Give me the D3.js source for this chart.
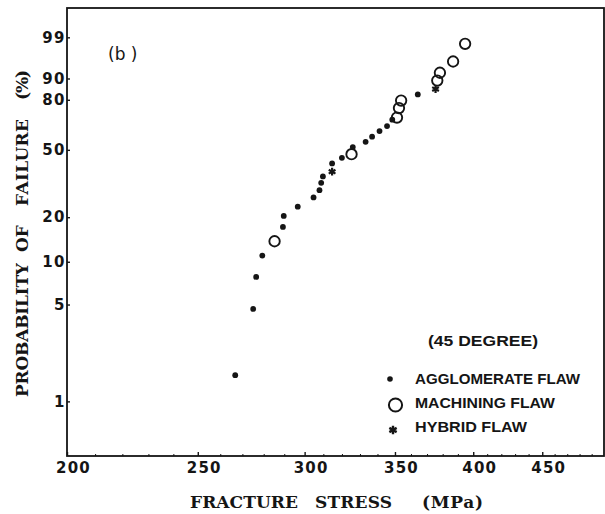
<!DOCTYPE html>
<html>
<head>
<meta charset="utf-8">
<script src="https://cdn.jsdelivr.net/npm/d3@7"></script>
<style>
  html, body { margin: 0; padding: 0; background: #fff; }
  svg { display: block; }
</style>
</head>
<body>
<svg id="chart" width="605" height="514"></svg>
<script>
// Weibull probability plot of fracture stress, 45 degree specimens,
// split by the flaw type found at the fracture origin.

const agglomerateStress = [266.5, 274.8, 276.2, 279.1, 289.1, 289.5, 296.5, 304.6, 307.7, 308.6,
                           309.5, 314.4, 319.7, 325.7, 332.9, 336.6, 340.9, 345.3, 348.4, 363.9];
const agglomerateProb   = [1.55, 4.65, 7.84, 11.04, 17.26, 20.39, 23.37, 26.72, 29.64, 32.80,
                           35.77, 42.38, 45.43, 51.59, 54.76, 57.92, 61.32, 64.41, 68.40, 82.84];

const machiningStress = [285.0, 325.0, 351.2, 352.4, 353.7, 376.2, 377.9, 386.5, 394.5];
const machiningProb   = [13.83, 47.52, 69.65, 75.32, 79.56, 89.18, 92.08, 95.33, 98.39];

const hybridStress = [314.4, 375.1];
const hybridProb   = [38.13, 85.45];

const xTicks = [200, 250, 300, 350, 400, 450];
const yTicks = [1, 5, 10, 20, 50, 80, 90, 99];

const panelLabel = "(b )";
const conditionLabel = "(45 DEGREE)";
const legendLabels = ["AGGLOMERATE FLAW", "MACHINING FLAW", "HYBRID FLAW"];
const xTitleWords = ["FRACTURE", "STRESS", "(MPa)"];
const yTitleWords = ["PROBABILITY", "OF", "FAILURE", "(%)"];

const ink = "#151515";
const svg = d3.select("#chart");
const plot = { left: 67, right: 604, top: 8, bottom: 456 };

// Weibull probability transform: ln(-ln(1 - F))
const weibull = p => Math.log(-Math.log(1 - p / 100));

const x = d3.scaleLog().domain([200, 500]).range([plot.left, plot.right]);
const yw = d3.scaleLinear()
  .domain([weibull(0.4), weibull(99.947)])
  .range([plot.bottom, plot.top]);
const y = p => yw(weibull(p));

// plot frame
svg.append("rect")
  .attr("x", plot.left).attr("y", plot.top)
  .attr("width", plot.right - plot.left).attr("height", plot.bottom - plot.top)
  .attr("fill", "none").attr("stroke", ink).attr("stroke-width", 1.8);

// minor ticks every 10 MPa
const xMinor = d3.range(210, 500, 10).filter(v => v % 50 !== 0);
svg.append("g").selectAll("line").data(xMinor).join("line")
  .attr("x1", d => x(d)).attr("x2", d => x(d))
  .attr("y1", plot.bottom).attr("y2", plot.bottom - 2)
  .attr("stroke", ink).attr("stroke-width", 1);

// x axis
const xAxis = svg.append("g")
  .attr("transform", `translate(0,${plot.bottom})`)
  .call(d3.axisBottom(x).tickValues(xTicks).tickFormat(d3.format("d"))
    .tickSizeInner(-4).tickSizeOuter(0).tickPadding(6));
xAxis.select(".domain").remove();
xAxis.selectAll(".tick line").attr("stroke", ink).attr("stroke-width", 1.4);
xAxis.selectAll(".tick text")
  .attr("dx", 6)
  .attr("fill", ink)
  .style("font-family", "'DejaVu Sans', sans-serif")
  .style("font-weight", "bold")
  .style("font-size", "15px")
  .style("letter-spacing", "1.2px");

// y axis on the Weibull scale
const yAxis = svg.append("g")
  .attr("transform", `translate(${plot.left},0)`)
  .call(d3.axisLeft(yw).tickValues(yTicks.map(weibull)).tickFormat((d, i) => yTicks[i])
    .tickSizeInner(-3).tickSizeOuter(0).tickPadding(1));
yAxis.select(".domain").remove();
yAxis.selectAll(".tick line").attr("stroke", ink).attr("stroke-width", 1.4);
yAxis.selectAll(".tick text")
  .attr("fill", ink)
  .style("font-family", "'DejaVu Sans', sans-serif")
  .style("font-weight", "bold")
  .style("font-size", "15px")
  .style("letter-spacing", "1.5px");

// markers
const dotR = 2.9, ringR = 5.2;
const star = d3.symbol().type(d3.symbolAsterisk).size(42);

svg.append("g").selectAll("circle")
  .data(d3.zip(agglomerateStress, agglomerateProb)).join("circle")
  .attr("cx", d => x(d[0])).attr("cy", d => y(d[1]))
  .attr("r", dotR).attr("fill", ink);

svg.append("g").selectAll("circle")
  .data(d3.zip(machiningStress, machiningProb)).join("circle")
  .attr("cx", d => x(d[0])).attr("cy", d => y(d[1]))
  .attr("r", ringR).attr("fill", "none").attr("stroke", ink).attr("stroke-width", 1.9);

svg.append("g").selectAll("path")
  .data(d3.zip(hybridStress, hybridProb)).join("path")
  .attr("transform", d => `translate(${x(d[0])},${y(d[1])})`)
  .attr("d", star).attr("fill", "none").attr("stroke", ink).attr("stroke-width", 2.2);

// panel label
svg.append("text")
  .attr("x", 108).attr("y", 60)
  .attr("fill", ink)
  .style("font-family", "'DejaVu Sans', sans-serif")
  .style("font-size", "17px")
  .text(panelLabel);

// legend
const legendFont = sel => sel
  .attr("fill", ink)
  .style("font-family", "'Liberation Sans', Arial, sans-serif")
  .style("font-weight", "bold")
  .style("font-size", "15px")
  .attr("lengthAdjust", "spacingAndGlyphs");

svg.append("text").attr("x", 428).attr("y", 345.5)
  .attr("textLength", 110).call(legendFont).text(conditionLabel);

const legendRows = [
  { y: 383.5, len: 165, mark: "dot",  my: 379 },
  { y: 408,   len: 140, mark: "ring", my: 405 },
  { y: 431.5, len: 112, mark: "star", my: 430 }
];
legendRows.forEach((r, i) => {
  svg.append("text").attr("x", 415).attr("y", r.y)
    .attr("textLength", r.len).call(legendFont).text(legendLabels[i]);
  if (r.mark === "dot") {
    svg.append("circle").attr("cx", 390).attr("cy", r.my).attr("r", 2.8).attr("fill", ink);
  } else if (r.mark === "ring") {
    svg.append("circle").attr("cx", 395.5).attr("cy", r.my).attr("r", 6.6)
      .attr("fill", "none").attr("stroke", ink).attr("stroke-width", 2);
  } else {
    svg.append("path").attr("transform", `translate(393,${r.my})`)
      .attr("d", d3.symbol().type(d3.symbolAsterisk).size(50)())
      .attr("fill", "none").attr("stroke", ink).attr("stroke-width", 2.4);
  }
});

// axis titles
const titleFont = sel => sel
  .attr("fill", ink)
  .style("font-family", "'DejaVu Serif', serif")
  .style("font-weight", "bold")
  .style("font-size", "17px");

const xTitle = svg.append("text").attr("y", 508).call(titleFont);
[[190, 108], [315, 77], [422, 61]].forEach(([px, len], i) => {
  xTitle.append("tspan").attr("x", px).attr("textLength", len)
    .attr("lengthAdjust", "spacing").text(xTitleWords[i]);
});

// y title runs bottom-to-top; positions are distances along the rotated baseline
const yTitle = svg.append("text")
  .attr("transform", "translate(28,0) rotate(-90)")
  .call(titleFont);
[[-397, 134], [-252, null], [-206, 87], [-100, 30]].forEach(([px, len], i) => {
  const t = yTitle.append("tspan").attr("x", px).text(yTitleWords[i]);
  if (len) t.attr("textLength", len).attr("lengthAdjust", "spacing");
});
</script>
</body>
</html>
